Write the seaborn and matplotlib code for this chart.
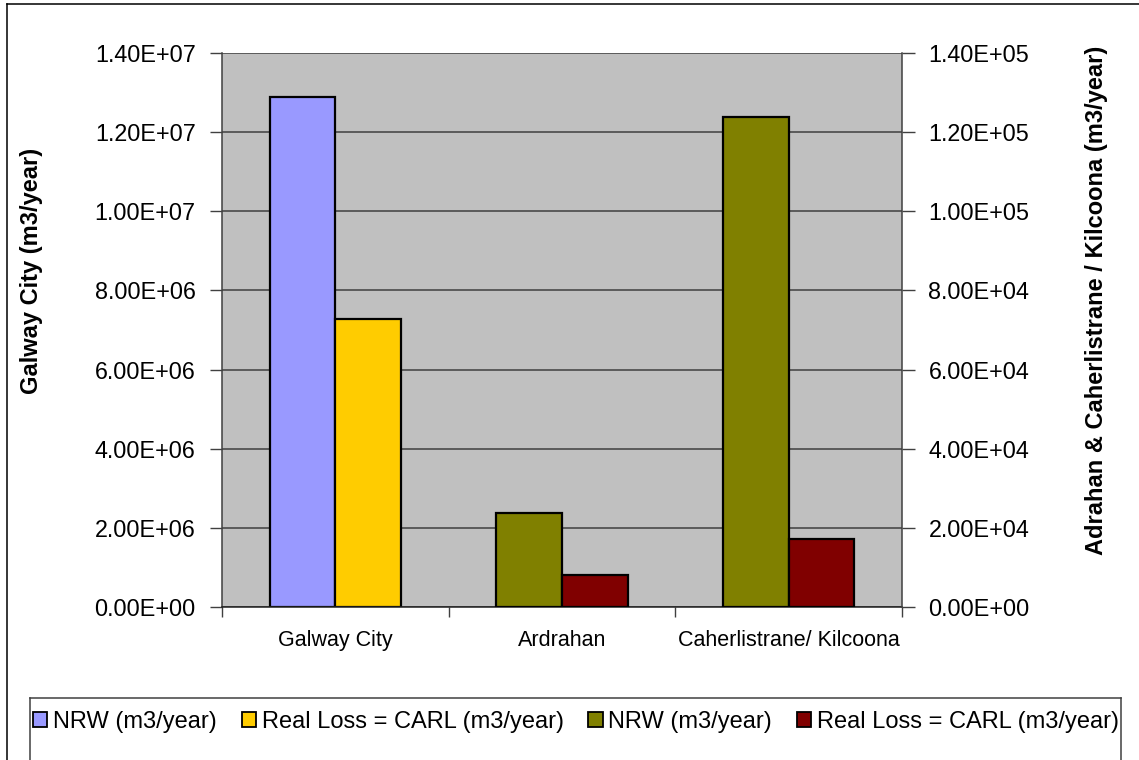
import matplotlib
matplotlib.use("Agg")
import matplotlib.pyplot as plt
from matplotlib.patches import Patch
from matplotlib.lines import Line2D
from matplotlib.ticker import FixedLocator
import seaborn as sns
import pandas as pd

# ---- data -------------------------------------------------------------
sites = ["Galway City", "Ardrahan", "Caherlistrane/ Kilcoona"]
series = ["NRW (m3/year)", "Real Loss = CARL (m3/year)"]

# Galway City on the left axis
city_site = "Galway City"
city_values = [1.29e7, 7.28e6]          # NRW, Real Loss

# Ardrahan and Caherlistrane/ Kilcoona on the right axis
rural_sites = ["Ardrahan", "Caherlistrane/ Kilcoona"]
rural_nrw = [2.36e4, 1.239e5]
rural_carl = [8.0e3, 1.71e4]

left_ticks = [0, 2e6, 4e6, 6e6, 8e6, 1.0e7, 1.2e7, 1.4e7]
right_ticks = [0, 2e4, 4e4, 6e4, 8e4, 1.0e5, 1.2e5, 1.4e5]

city_colors = ["#9999FF", "#FFCC00"]
rural_colors = ["#808000", "#800000"]

left_label = "Galway City (m3/year)"
right_label = "Adrahan & Caherlistrane / Kilcoona (m3/year)"

df_city = pd.DataFrame({
    "site": [city_site] * len(series),
    "series": series,
    "value": city_values,
})
df_rural = pd.DataFrame({
    "site": rural_sites * 2,
    "series": [series[0]] * len(rural_sites) + [series[1]] * len(rural_sites),
    "value": rural_nrw + rural_carl,
})

# ---- figure -----------------------------------------------------------
plt.rcParams["font.family"] = ["Liberation Sans", "DejaVu Sans"]

W, H = 1139, 760
fig = plt.figure(figsize=(W / 100, H / 100), dpi=100)
fig.patch.set_facecolor("white")

x0, x1, y0, y1 = 222, 902, 53.3, 606.7
ax1 = fig.add_axes([x0 / W, 1 - y1 / H, (x1 - x0) / W, (y1 - y0) / H])
ax1.set_facecolor("#C0C0C0")
ax2 = ax1.twinx()

bar_kw = dict(x="site", y="value", hue="series", order=sites, hue_order=series,
              width=0.58, edgecolor="black", linewidth=1.6, saturation=1,
              errorbar=None, legend=False)
sns.barplot(data=df_city, palette=city_colors, ax=ax1, **bar_kw)
sns.barplot(data=df_rural, palette=rural_colors, ax=ax2, **bar_kw)

for ax in (ax1, ax2):
    ax.set_xlabel("")
    ax.set_ylabel("")

ax1.set_xlim(-0.5, len(sites) - 0.5)
ax1.set_ylim(0, left_ticks[-1])
ax2.set_ylim(0, right_ticks[-1])

# y axes
ax1.set_yticks(left_ticks)
ax1.set_yticklabels([f"{v:.2E}" for v in left_ticks])
ax2.set_yticks(right_ticks)
ax2.set_yticklabels([f"{v:.2E}" for v in right_ticks])
ax1.tick_params(axis="y", direction="out", length=9, width=1, color="#404040",
                pad=10, labelsize=16.8, labelcolor="black")
ax2.tick_params(axis="y", direction="out", length=9, width=1, color="#404040",
                pad=10, labelsize=16.8, labelcolor="black")

ax1.yaxis.grid(True, color="#404040", linewidth=1.1)
ax1.xaxis.grid(False)
ax1.set_axisbelow(True)

# category axis: labels centred, tick marks between categories
ax1.xaxis.set_major_locator(FixedLocator(range(len(sites))))
ax1.set_xticklabels(sites)
ax1.xaxis.set_minor_locator(FixedLocator([i - 0.5 for i in range(len(sites) + 1)]))
ax1.tick_params(axis="x", which="major", length=0, pad=17, labelsize=15.5)
ax1.tick_params(axis="x", which="minor", direction="out", length=7, width=1,
                color="#404040")

# spines
for s in ("top", "right"):
    ax1.spines[s].set_visible(False)
ax1.spines["left"].set_color("#404040")
ax1.spines["bottom"].set_color("#202020")
for s in ("top", "left", "bottom"):
    ax2.spines[s].set_visible(False)
ax2.spines["right"].set_color("#404040")
for ax in (ax1, ax2):
    for sp in ax.spines.values():
        sp.set_linewidth(1.1)

# axis titles
fig.text(32 / W, 1 - 271 / H, left_label, rotation=90, ha="center", va="center",
         fontsize=17, fontweight="bold")
fig.text(1097 / W, 1 - 300 / H, right_label, rotation=90, ha="center", va="center",
         fontsize=17, fontweight="bold")

# legend
handles = [Patch(facecolor=c, edgecolor="black", linewidth=1.3)
           for c in city_colors + rural_colors]
labels = series + series
lh = 30 / H
fig.legend(handles, labels, loc="center left",
           bbox_to_anchor=(33 / W, 1 - 722 / H - lh / 2, (1119 - 33) / W, lh),
           bbox_transform=fig.transFigure, mode="expand", ncol=4, frameon=False,
           fontsize=17, handlelength=0.6, handleheight=0.6, handletextpad=0.25,
           borderaxespad=0, borderpad=0, columnspacing=0.4)

# legend box (runs past the bottom edge)
lx0, lx1, ly = 30 / W, 1121 / W, 1 - 698 / H
for xs, ys in (([lx0, lx0], [-0.05, ly]), ([lx0, lx1], [ly, ly]), ([lx1, lx1], [ly, -0.05])):
    fig.add_artist(Line2D(xs, ys, color="#404040", linewidth=1.1,
                          transform=fig.transFigure))

# outer chart border
bx, by = 7 / W, 1 - 4 / H
fig.add_artist(Line2D([bx, bx], [-0.05, by], color="black", linewidth=1.1,
                      transform=fig.transFigure))
fig.add_artist(Line2D([bx, 1.05], [by, by], color="black", linewidth=1.1,
                      transform=fig.transFigure))

fig.savefig("out.png", dpi=100)
